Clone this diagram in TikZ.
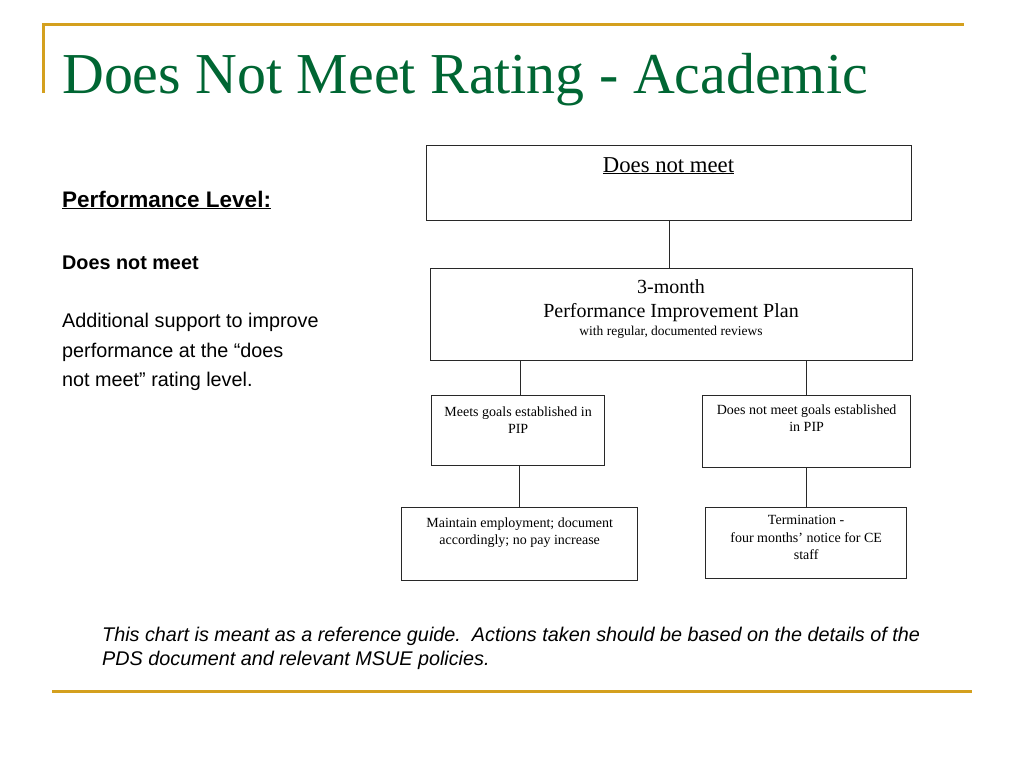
\documentclass[tikz,border=0pt]{standalone}
\usepackage{fontspec}
\setmainfont{Liberation Serif}
\setsansfont{Liberation Sans}
\definecolor{gold}{RGB}{212,160,30}
\definecolor{titlegreen}{RGB}{0,102,51}
\definecolor{boxline}{RGB}{40,40,40}
\tikzset{
  box/.style={draw=boxline, line width=1.3pt, rectangle, inner sep=0pt, anchor=north west},
  conn/.style={draw=boxline, line width=1.3pt},
  goldline/.style={draw=gold, line width=3pt},
  small/.style={font=\fontsize{14}{17.5}\selectfont, align=center, inner sep=0pt, anchor=north},
  lefttext/.style={font=\sffamily\fontsize{19.8}{24}\selectfont, inner sep=0pt, anchor=base west},
}
\begin{document}
\begin{tikzpicture}[x=1pt,y=-1pt]
\useasboundingbox (0,0) rectangle (1024,768);
% decorative lines
\coordinate (gl1) at (43,93);
\coordinate (gl2) at (43,25);
\coordinate (gl3) at (964,25);
\draw[goldline] (gl1) -- (gl2) -- (gl3);
\coordinate (gb1) at (52,691);
\coordinate (gb2) at (972,691);
\draw[goldline] (gb1) -- (gb2);
% title
\node[inner sep=0pt, anchor=base west, text=titlegreen, font=\fontsize{57.9}{62}\selectfont] (title) at (62,93) {Does Not Meet Rating - Academic};
% left text
\node[lefttext, font=\sffamily\bfseries\fontsize{22.5}{26}\selectfont] (pl) at (62,207) {\underline{Performance Level:}};
\node[lefttext, font=\sffamily\bfseries\fontsize{19.8}{24}\selectfont] (dnm) at (62,269) {Does not meet};
\node[lefttext] (l1) at (62,327) {Additional support to improve};
\node[lefttext] (l2) at (62,357) {performance at the “does};
\node[lefttext] (l3) at (62,386) {not meet” rating level.};
% boxes
\node[box, minimum width=485pt, minimum height=75pt] (b1) at (426,145) {};
\node[box, minimum width=482pt, minimum height=92pt] (b2) at (430,268) {};
\node[box, minimum width=173pt, minimum height=70pt] (b3) at (431,395) {};
\node[box, minimum width=208pt, minimum height=72pt] (b4) at (702,395) {};
\node[box, minimum width=236pt, minimum height=73pt] (b5) at (401,507) {};
\node[box, minimum width=201pt, minimum height=71pt] (b6) at (705,507) {};
% box texts
\node[inner sep=0pt, anchor=base, font=\fontsize{22.7}{26}\selectfont] (t1) at (668.5,172) {\underline{Does not meet}};
\node[inner sep=0pt, anchor=base, font=\fontsize{20}{24}\selectfont] (t2a) at (671,293) {3-month};
\node[inner sep=0pt, anchor=base, font=\fontsize{20}{24}\selectfont] (t2b) at (671,317) {Performance Improvement Plan};
\node[inner sep=0pt, anchor=base, font=\fontsize{13.5}{16}\selectfont] (t2c) at (671,335) {with regular, documented reviews};
\node[small] (t3) at ([yshift=-11.4pt]b3.north) {Meets goals established in\\PIP};
\node[small] (t4) at ([yshift=-9.4pt]b4.north) {Does not meet goals established\\in PIP};
\node[small] (t5) at ([yshift=-10.4pt]b5.north) {Maintain employment; document\\accordingly; no pay increase};
\node[small] (t6) at ([yshift=-8.5pt]b6.north) {Termination -\\four months’ notice for CE\\staff};
% connectors
\draw[conn] (b1.south) -- (b1.south |- b2.north);
\draw[conn] ([xshift=2.5pt]b3.north |- b2.south) -- ([xshift=2.5pt]b3.north);
\draw[conn] (b4.north |- b2.south) -- (b4.north);
\draw[conn] ([xshift=1.5pt]b3.south) -- ([xshift=1.5pt]b3.south |- b5.north);
\draw[conn] (b4.south) -- (b4.south |- b6.north);
% footnote
\node[inner sep=0pt, anchor=base west, font=\sffamily\itshape\fontsize{19.8}{24}\selectfont] (foot) at (102,641) {This chart is meant as a reference guide.\ \ Actions taken should be based on the details of the};
\node[inner sep=0pt, anchor=base west, font=\sffamily\itshape\fontsize{19.8}{24}\selectfont] (foot2) at (102,665) {PDS document and relevant MSUE policies.};
\end{tikzpicture}
\end{document}
